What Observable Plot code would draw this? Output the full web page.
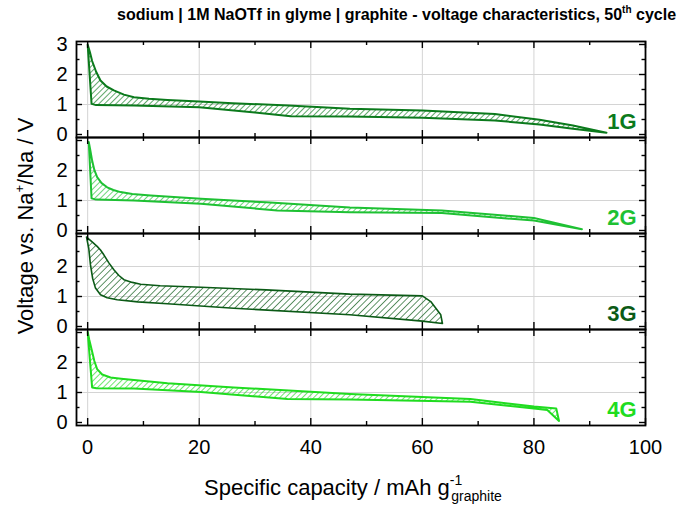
<!DOCTYPE html>
<html><head><meta charset="utf-8">
<script src="https://cdn.jsdelivr.net/npm/d3@7"></script>
<script src="https://cdn.jsdelivr.net/npm/@observablehq/plot@0.6"></script>
<style>
body{margin:0;background:#fff;font-family:"Liberation Sans",Arial,sans-serif;}
#root{position:relative;width:694px;height:506px;overflow:hidden;background:#fff;}
.panel{position:absolute;left:0;}
.panel svg{overflow:visible;}
#title{position:absolute;top:4px;left:117px;font-weight:bold;font-size:16px;white-space:nowrap;color:#000;}
#title sup{font-size:10px;vertical-align:7px;}
#xtitle{position:absolute;left:204px;top:467px;font-size:22px;white-space:nowrap;color:#000;line-height:26px;}
#xtitle sup{font-size:14px;vertical-align:10px;}
#xtitle sub{font-size:14px;vertical-align:-6px;margin-left:-11px;}
#ytitle{position:absolute;left:25px;top:226px;transform:translate(-50%,-50%) rotate(-90deg);font-size:22px;white-space:nowrap;color:#000;}
#ytitle sup{font-size:13px;vertical-align:9px;}
</style></head><body>
<svg width="0" height="0" style="position:absolute">
  <defs id="patterns"></defs>
</svg>
<div id="root">
  <div id="title">sodium | 1M NaOTf in glyme | graphite - voltage characteristics, 50<sup>th</sup> cycle</div>
  <div id="ytitle">Voltage vs. Na<sup>+</sup>/Na / V</div>
  <div id="xtitle">Specific capacity / mAh g<sup>-1</sup><sub>graphite</sub></div>
</div>
<script>
// ---- data ----
const panelLabels = ["1G", "2G", "3G", "4G"];
const panelColors = ["#0b7a1c", "#1ec133", "#0b5a16", "#20dc20"];

const cap1Upper = [0, 0.4, 0.8, 1.5, 2.3, 3.4, 4.7, 6.5, 8.3, 11, 14.3, 20, 26, 36, 47, 60, 73, 81, 87, 93];
const volt1Upper = [3.0, 2.75, 2.45, 2.1, 1.8, 1.6, 1.47, 1.33, 1.24, 1.19, 1.15, 1.1, 1.04, 0.97, 0.86, 0.8, 0.68, 0.49, 0.3, 0.06];
const cap1Lower = [0, 0.7, 1.5, 8.3, 20, 30, 36.4, 47, 60, 73, 81, 87, 93];
const volt1Lower = [3.0, 1.02, 0.98, 0.97, 0.91, 0.73, 0.61, 0.6, 0.56, 0.47, 0.33, 0.19, 0.06];

const cap2Upper = [0.2, 0.5, 0.8, 1.2, 1.7, 2.5, 3.5, 4.6, 5.9, 8, 11.3, 20.3, 32, 47, 63.5, 80, 88.6];
const volt2Upper = [2.95, 2.65, 2.33, 2.02, 1.78, 1.58, 1.44, 1.35, 1.28, 1.22, 1.17, 1.06, 0.94, 0.77, 0.67, 0.42, 0.04];
const cap2Lower = [0.2, 0.7, 1.5, 8.3, 20.3, 34, 47, 63.5, 80, 88.6];
const volt2Lower = [2.95, 1.07, 1.03, 1.0, 0.89, 0.67, 0.61, 0.58, 0.33, 0.04];

const cap3Upper = [-0.2, 0.8, 1.7, 2.3, 2.9, 3.8, 4.7, 5.6, 6.5, 8, 9.5, 13, 20.3, 32, 47, 60, 61.5, 63.3, 63.6];
const volt3Upper = [2.98, 2.82, 2.67, 2.55, 2.39, 2.12, 1.89, 1.7, 1.56, 1.47, 1.41, 1.36, 1.31, 1.22, 1.08, 1.02, 0.83, 0.39, 0.1];
const cap3Lower = [-0.2, 0.2, 0.5, 0.9, 1.4, 2.3, 3.5, 5.3, 9, 14.3, 26.2, 47, 60, 63.6];
const volt3Lower = [2.98, 2.6, 2.06, 1.6, 1.28, 1.06, 0.96, 0.89, 0.82, 0.76, 0.61, 0.39, 0.18, 0.1];

const cap4Upper = [0, 0.3, 0.7, 1.2, 1.7, 2.6, 4.1, 6, 8.3, 14.3, 26.2, 47, 68.6, 80, 84, 84.5];
const volt4Upper = [3.02, 2.75, 2.44, 2.05, 1.78, 1.6, 1.5, 1.46, 1.42, 1.31, 1.17, 0.95, 0.78, 0.53, 0.47, 0.05];
const cap4Lower = [0, 0.8, 1.6, 8.3, 20.3, 35.8, 47, 68.6, 80, 82.4, 84.5];
const volt4Lower = [3.02, 1.17, 1.14, 1.13, 1.02, 0.78, 0.77, 0.69, 0.47, 0.42, 0.05];

const xTickLabels = [0, 20, 40, 60, 80, 100];
const xMinorTicks = [10, 30, 50, 70, 90];
const xGrid = [0, 20, 40, 60, 80];
const yMajorTicks = [0, 1, 2, 3];
const yMinorTicks = [0.5, 1.5, 2.5];
const yGrid = [1, 2];
const yLabelsFirst = [0, 1, 2, 3];
const yLabelsOther = [0, 1, 2];

// ---- build closed loops ----
const curves = [
  [cap1Upper, volt1Upper, cap1Lower, volt1Lower],
  [cap2Upper, volt2Upper, cap2Lower, volt2Lower],
  [cap3Upper, volt3Upper, cap3Lower, volt3Lower],
  [cap4Upper, volt4Upper, cap4Lower, volt4Lower]
];
function loop([cu, vu, cl, vl]) {
  const up = cu.map((c, i) => ({cap: c, v: vu[i]}));
  const lo = cl.map((c, i) => ({cap: c, v: vl[i]})).reverse();
  return up.concat(lo);
}

// ---- hatch patterns ----
const defs = d3.select("#patterns");
panelColors.forEach((c, i) => {
  const s = i === 2 ? 4.6 : 4.0;
  const p = defs.append("pattern")
    .attr("id", "hatch" + i)
    .attr("patternUnits", "userSpaceOnUse")
    .attr("width", s).attr("height", s)
    .attr("patternTransform", "rotate(45)");
  p.append("line").attr("x1", 0).attr("y1", 0).attr("x2", 0).attr("y2", s)
    .attr("stroke", c).attr("stroke-width", 1.3);
});

// ---- panels ----
const W = 694, ML = 76, MR = 49, H = 96, PAD = 4;
const innerW = W - ML - MR;
const panelTops = [41, 137, 233, 329];
const root = document.getElementById("root");

curves.forEach((cv, i) => {
  const last = i === curves.length - 1;
  const color = panelColors[i];
  const strokeW = i === 2 ? 1.6 : 2;
  const chart = Plot.plot({
    width: W,
    height: H + PAD + (last ? 40 : PAD),
    marginLeft: ML, marginRight: MR, marginTop: PAD, marginBottom: last ? 40 : PAD,
    style: {fontFamily: "Liberation Sans, Arial, sans-serif", fontSize: "20px", color: "#000", background: "transparent", overflow: "visible"},
    x: {domain: [-2, 100], axis: last ? "bottom" : null, ticks: xTickLabels, tickSize: 0, tickPadding: 14, label: null, tickFormat: d => d},
    y: {domain: [-0.1, 3.1], axis: "left", ticks: i === 0 ? yLabelsFirst : yLabelsOther, tickSize: 0, tickPadding: 9, label: null, tickFormat: d => d},
    marks: [
      Plot.ruleX(xGrid, {x: d => d, stroke: "#d4d4d4", strokeWidth: 1}),
      Plot.ruleY(yGrid, {y: d => d, stroke: "#d4d4d4", strokeWidth: 1}),
      Plot.line(loop(cv), {x: "cap", y: "v", stroke: color, strokeWidth: strokeW, fill: `url(#hatch${i})`, strokeLinejoin: "round"}),
      // inward ticks: bottom and top
      Plot.tickX(xTickLabels, {x: d => d, insetTop: H - 7, stroke: "#000", strokeWidth: 1.4}),
      Plot.tickX(xTickLabels, {x: d => d, insetBottom: H - 7, stroke: "#000", strokeWidth: 1.4}),
      Plot.tickX(xMinorTicks, {x: d => d, insetTop: H - 4, stroke: "#000", strokeWidth: 1.4}),
      Plot.tickX(xMinorTicks, {x: d => d, insetBottom: H - 4, stroke: "#000", strokeWidth: 1.4}),
      // inward ticks: left and right
      Plot.tickY(yMajorTicks, {y: d => d, insetRight: innerW - 6, stroke: "#000", strokeWidth: 1.4}),
      Plot.tickY(yMajorTicks, {y: d => d, insetLeft: innerW - 6, stroke: "#000", strokeWidth: 1.4}),
      Plot.tickY(yMinorTicks, {y: d => d, insetRight: innerW - 3.5, stroke: "#000", strokeWidth: 1.4}),
      Plot.tickY(yMinorTicks, {y: d => d, insetLeft: innerW - 3.5, stroke: "#000", strokeWidth: 1.4}),
      Plot.frame({stroke: "#000", strokeWidth: 1.8}),
      Plot.text([panelLabels[i]], {text: d => d, frameAnchor: "bottom-right", dx: -9, dy: -16,
        textAnchor: "end", lineAnchor: "middle", fill: color, fontWeight: "bold", fontSize: 22})
    ]
  });
  const div = document.createElement("div");
  div.className = "panel";
  div.style.top = (panelTops[i] - PAD) + "px";
  div.appendChild(chart);
  root.appendChild(div);
});
</script>
</body></html>
